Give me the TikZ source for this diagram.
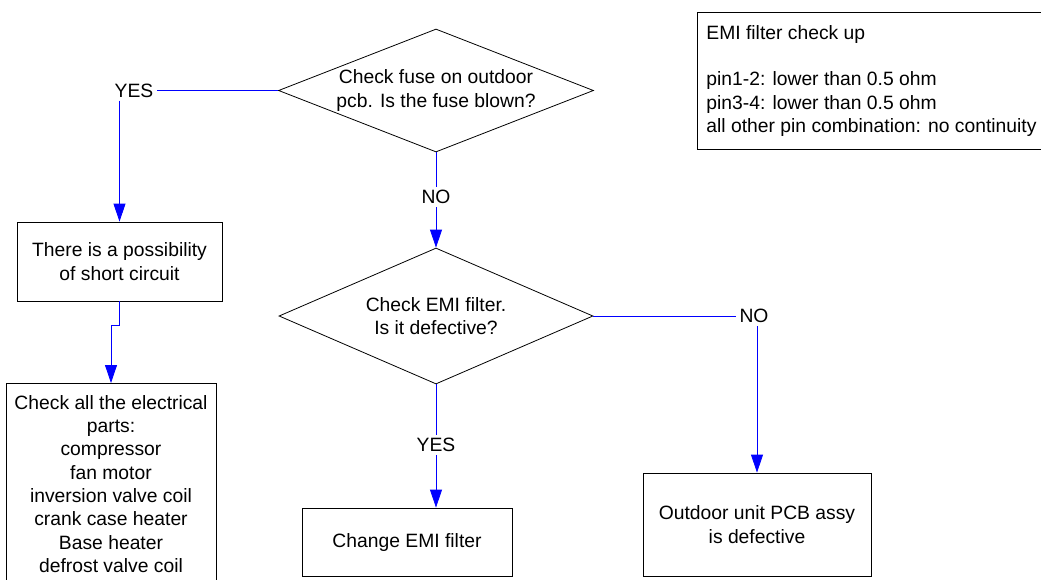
\documentclass[tikz,border=0pt]{standalone}
\usepackage{fontspec}
\setmainfont{Liberation Sans}
\usetikzlibrary{positioning,arrows.meta,shapes.geometric}

\begin{document}
\begin{tikzpicture}[x=1pt, y=1pt, >={Triangle[length=18pt,width=12pt]}, font=\fontsize{19.3}{23.3}\selectfont]
\tikzstyle{box}=[draw, line width=0.8pt, align=center, inner sep=0pt]
\tikzstyle{check}=[draw, diamond, line width=0.8pt, align=center, inner sep=0pt]
\tikzstyle{answer}=[inner sep=3pt]
\tikzstyle{link}=[blue, line width=0.8pt]
\useasboundingbox (0,0) rectangle (1041,-579);

\node[check, shape aspect=2.56, minimum width=315pt, minimum height=123pt] (fuse) at (436,-90.5) {Check fuse on outdoor\\pcb. Is the fuse blown?};
\node[check, shape aspect=2.31, minimum width=314pt, minimum height=136pt] (filter) at (436,-316) {Check EMI filter.\\Is it defective?};
\node[box, minimum width=205pt, minimum height=79pt] (short) at (119.5,-261.5) {There is a possibility\\of short circuit};
\node[box, anchor=north, minimum width=210pt, inner ysep=12pt, text depth=80pt] (parts) at (111,-383) {Check all the electrical\\parts:\\compressor\\fan motor\\inversion valve coil\\crank case heater\\Base heater\\defrost valve coil};
\node[box, minimum width=210pt, minimum height=68pt] (emi) at (407,-542) {Change EMI filter};
\node[box, minimum width=228pt, minimum height=103pt] (pcb) at (757,-524.5) {Outdoor unit PCB assy\\is defective};
\node[draw, line width=0.8pt, anchor=north west, align=flush left, text width=352pt, inner xsep=9pt, inner ysep=13pt] (info) at (697,-12) {EMI filter check up\\[23.3pt]pin1-2: lower than 0.5 ohm\\pin3-4: lower than 0.5 ohm\\all other pin combination: no continuity};

\node[answer] (yesfuse) at (134,-90.5) {YES};
\node[answer] (nofuse) at (436,-197) {NO};
\node[answer] (noemi) at (754,-316) {NO};
\node[answer] (yesemi) at (436,-445) {YES};

\draw[link] (fuse.west) -- (yesfuse.east);
\draw[link,->] (yesfuse.south -| short.north) -- (short.north);
\draw[link,->] (short.south) -- ++(0,-24) -| (parts.north);
\draw[link] (fuse.south) -- (nofuse.north);
\draw[link,->] (nofuse.south) -- (filter.north);
\draw[link] (filter.east) -- (noemi.west);
\draw[link,->] (noemi.south -| pcb.north) -- (pcb.north);
\draw[link] (filter.south) -- (yesemi.north);
\draw[link,->] (yesemi.south) -- (yesemi.south |- emi.north);
\end{tikzpicture}
\end{document}
